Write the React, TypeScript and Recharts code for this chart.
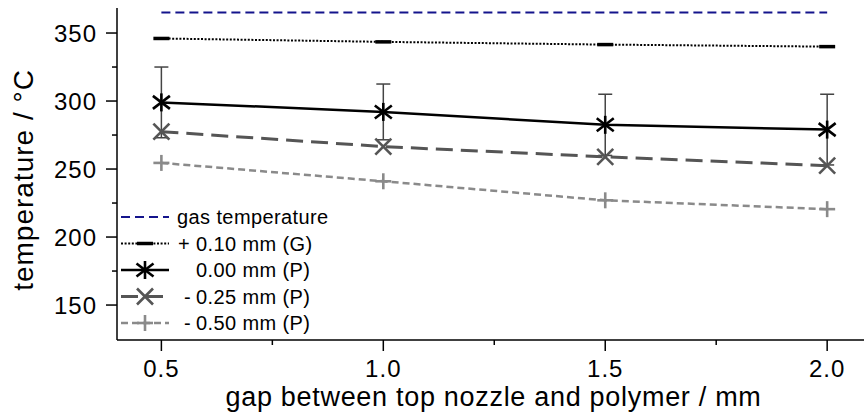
import React from 'react';
import { LineChart, Line, XAxis, YAxis, ErrorBar } from 'recharts';

// gap between top nozzle and polymer / mm
const gaps = [0.5, 1.0, 1.5, 2.0];

// temperatures / °C
const gasTemperature = [365, 365, 365, 365];
const plus010G = [346, 343.5, 341.5, 340];
const zero000P = [299, 292, 282.5, 279];
const zero000Err = [26, 20.5, 22.5, 26];
const minus025P = [277.5, 266.5, 259, 252.5];
const minus050P = [254.5, 241, 227, 220.5];

const xTicks = [0.5, 0.75, 1.0, 1.25, 1.5, 1.75, 2.0];
const yTicks = [150, 175, 200, 225, 250, 275, 300, 325, 350];

const FONT = '"Liberation Sans", Arial, Helvetica, sans-serif';

const data = gaps.map((gap, i) => ({
  gap,
  gas: gasTemperature[i],
  g010: plus010G[i],
  p000: zero000P[i],
  p000err: zero000Err[i],
  p025: minus025P[i],
  p050: minus050P[i],
}));

type MarkerType = 'none' | 'dash' | 'asterisk' | 'cross' | 'plus';

const SERIES: { key: string; sign: string; label: string; color: string; width: number; dash?: string; marker: MarkerType }[] = [
  { key: 'gas', sign: '', label: 'gas temperature', color: '#14148c', width: 2, dash: '9 5', marker: 'none' },
  { key: 'g010', sign: '+', label: '0.10 mm (G)', color: '#000000', width: 2, dash: '2 1.6', marker: 'dash' },
  { key: 'p000', sign: '', label: '0.00 mm (P)', color: '#000000', width: 2.5, marker: 'asterisk' },
  { key: 'p025', sign: '-', label: '0.25 mm (P)', color: '#555555', width: 3, dash: '17 8', marker: 'cross' },
  { key: 'p050', sign: '-', label: '0.50 mm (P)', color: '#8a8a8a', width: 2.5, dash: '7 4', marker: 'plus' },
];

const Marker = ({ type, cx, cy, color }: { type: MarkerType; cx: number; cy: number; color: string }) => {
  if (type === 'none' || cx == null || cy == null) return null;
  if (type === 'dash') {
    return <line x1={cx - 8} y1={cy} x2={cx + 8} y2={cy} stroke={color} strokeWidth={3.5} />;
  }
  if (type === 'asterisk') {
    return (
      <g stroke={color} strokeWidth={2.6}>
        <line x1={cx} y1={cy - 9} x2={cx} y2={cy + 9} />
        <line x1={cx - 8.5} y1={cy - 6.5} x2={cx + 8.5} y2={cy + 6.5} />
        <line x1={cx - 8.5} y1={cy + 6.5} x2={cx + 8.5} y2={cy - 6.5} />
      </g>
    );
  }
  if (type === 'cross') {
    return (
      <g stroke={color} strokeWidth={2.6}>
        <line x1={cx - 8} y1={cy - 8} x2={cx + 8} y2={cy + 8} />
        <line x1={cx - 8} y1={cy + 8} x2={cx + 8} y2={cy - 8} />
      </g>
    );
  }
  return (
    <g stroke={color} strokeWidth={2.6}>
      <line x1={cx - 8} y1={cy} x2={cx + 8} y2={cy} />
      <line x1={cx} y1={cy - 8} x2={cx} y2={cy + 8} />
    </g>
  );
};

const XTick = (props: any) => {
  const { x, y, payload } = props;
  const v = payload.value as number;
  const major = Math.abs(v * 2 - Math.round(v * 2)) < 1e-6;
  return (
    <g>
      <line x1={x} y1={y} x2={x} y2={y + (major ? 11 : 5)} stroke="#000" strokeWidth={1.5} />
      {major && (
        <text x={x} y={y + 37} textAnchor="middle" fontSize={24} letterSpacing={1} fontFamily={FONT} fill="#000">
          {v.toFixed(1)}
        </text>
      )}
    </g>
  );
};

const YTick = (props: any) => {
  const { x, y, payload } = props;
  const v = payload.value as number;
  const major = v % 50 === 0;
  return (
    <g>
      <line x1={x} y1={y} x2={x - (major ? 11 : 5)} y2={y} stroke="#000" strokeWidth={1.5} />
      {major && (
        <text x={x - 20} y={y + 8.5} textAnchor="end" fontSize={24} letterSpacing={1} fontFamily={FONT} fill="#000">
          {v}
        </text>
      )}
    </g>
  );
};

const XLabel = (props: any) => {
  const vb = props.viewBox || { x: 0, y: 0, width: 0 };
  return (
    <text x={vb.x + vb.width / 2 + 3} y={vb.y + 66} textAnchor="middle" fontSize={27} letterSpacing={0.7} fontFamily={FONT} fill="#000">
      gap between top nozzle and polymer / mm
    </text>
  );
};

const YLabel = (props: any) => {
  const vb = props.viewBox || { x: 0, y: 0, height: 0 };
  const cx = vb.x + 33;
  const cy = vb.y + vb.height / 2 + 6;
  return (
    <text x={cx} y={cy} transform={`rotate(-90 ${cx} ${cy})`} textAnchor="middle" fontSize={28} letterSpacing={1} fontFamily={FONT} fill="#000">
      temperature / °C
    </text>
  );
};

const LegendBox = () => (
  <svg width={240} height={140} style={{ position: 'absolute', left: 117, top: 203 }}>
    {SERIES.map((s, i) => {
      const cy = 14 + i * 26.5;
      return (
        <g key={s.key}>
          <line x1={4} y1={cy} x2={52} y2={cy} stroke={s.color} strokeWidth={s.width} strokeDasharray={s.dash} />
          <Marker type={s.marker} cx={28} cy={cy} color={s.color} />
          {s.key === 'gas' ? (
            <text x={60} y={cy + 7} fontSize={20} letterSpacing={0.4} fontFamily={FONT} fill="#000">{s.label}</text>
          ) : (
            <>
              <text x={s.sign === '+' ? 61 : 67} y={cy + 7} fontSize={20} fontFamily={FONT} fill="#000">{s.sign}</text>
              <text x={79} y={cy + 7} fontSize={20} letterSpacing={0.4} fontFamily={FONT} fill="#000">{s.label}</text>
            </>
          )}
        </g>
      );
    })}
  </svg>
);

export default function App() {
  return (
    <div style={{ position: 'absolute', left: 0, top: 0, width: 864, height: 412, background: '#fff' }}>
      <LineChart width={864} height={412} data={data} margin={{ top: 8, right: 0, bottom: 0, left: 0 }}>
        <XAxis
          dataKey="gap"
          type="number"
          domain={[0.4, 2.083]}
          ticks={xTicks}
          interval={0}
          allowDataOverflow
          height={72}
          tickLine={false}
          tickSize={0}
          tickMargin={0}
          tick={<XTick />}
          axisLine={{ stroke: '#000', strokeWidth: 1.5 }}
          label={<XLabel />}
        />
        <YAxis
          type="number"
          domain={[124.3, 368.4]}
          ticks={yTicks}
          interval={0}
          allowDataOverflow
          width={117}
          tickLine={false}
          tickSize={0}
          tickMargin={0}
          tick={<YTick />}
          axisLine={{ stroke: '#000', strokeWidth: 1.5 }}
          label={<YLabel />}
        />
        {SERIES.map((s) => (
          <Line
            key={s.key}
            dataKey={s.key}
            type="linear"
            stroke={s.color}
            strokeWidth={s.width}
            strokeDasharray={s.dash}
            isAnimationActive={false}
            dot={(p: any) => <Marker key={`${s.key}-${p.index}`} type={s.marker} cx={p.cx} cy={p.cy} color={s.color} />}
            activeDot={false}
          >
            {s.key === 'p000' && (
              <ErrorBar dataKey="p000err" direction="y" width={7} stroke="#444" strokeWidth={1.5} isAnimationActive={false} />
            )}
          </Line>
        ))}
      </LineChart>
      <LegendBox />
    </div>
  );
}
